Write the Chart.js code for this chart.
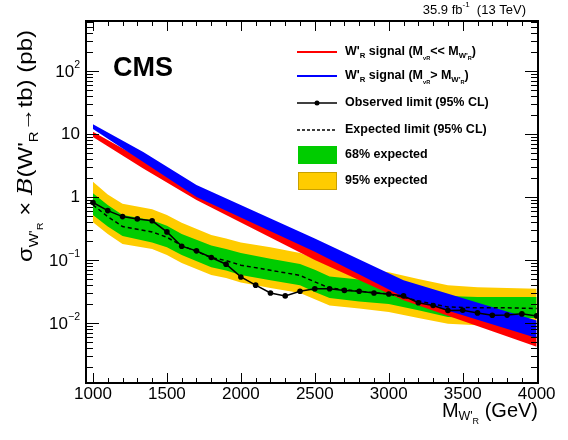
<!DOCTYPE html>
<html><head><meta charset="utf-8">
<script src="https://cdn.jsdelivr.net/npm/chart.js@4"></script>
<style>html,body{margin:0;padding:0;background:#fff}#c{display:block}</style>
</head><body><canvas id="c" width="568" height="440"></canvas>
<script>
const massObs=[1000,1100,1200,1300,1400,1500,1600,1700,1800,1900,2000,2100,2200,2300,2400,2500,2600,2700,2800,2900,3000,3100,3200,3300,3400,3500,3600,3700,3800,3900,4000];
const observed=[0.82,0.61,0.49,0.45,0.42,0.28,0.166,0.14,0.11,0.086,0.054,0.040,0.030,0.027,0.032,0.035,0.035,0.033,0.032,0.030,0.029,0.027,0.021,0.019,0.0158,0.016,0.0145,0.0133,0.0134,0.014,0.013];
const massExp=[1000,1100,1200,1400,1500,1600,1800,1900,2000,2200,2400,2500,2600,2800,3000,3200,3400,3600,3800,4000];
const expected=[0.75,0.49,0.34,0.28,0.23,0.17,0.11,0.098,0.083,0.069,0.057,0.045,0.036,0.032,0.029,0.0225,0.018,0.0175,0.0175,0.017];
const up68=[1.15,0.75,0.52,0.43,0.35,0.26,0.17,0.15,0.13,0.105,0.087,0.07,0.055,0.049,0.044,0.034,0.027,0.026,0.026,0.026];
const lo68=[0.52,0.34,0.24,0.19,0.16,0.12,0.077,0.068,0.058,0.048,0.04,0.031,0.025,0.022,0.020,0.016,0.0125,0.012,0.012,0.012];
const up95=[1.75,1.1,0.78,0.64,0.52,0.39,0.25,0.22,0.19,0.16,0.13,0.105,0.082,0.072,0.064,0.05,0.04,0.037,0.036,0.035];
const lo95=[0.4,0.26,0.18,0.15,0.12,0.09,0.058,0.052,0.044,0.036,0.03,0.024,0.019,0.017,0.015,0.012,0.0098,0.0092,0.009,0.0087];
const massSig=[1000,1340,1700,2500,3100,4000];
const redUp=[10.9,3.86,1.14,0.163,0.036,0.0062];
const redLo=[9.0,2.85,0.9,0.1,0.023,0.0042];
const blueUp=[14.3,5.2,1.55,0.22,0.048,0.011];
const blueLo=[12,3.6,1.0,0.135,0.026,0.0058];
const xTicks=[1000,1500,2000,2500,3000,3500,4000];
const yTickExp=[-2,-1,0,1,2];

const pts=(xs,ys)=>xs.map((x,i)=>({x:x,y:ys[i]}));
const band=(xs,u,l,col)=>[
 {data:pts(xs,l),borderWidth:0,pointRadius:0,fill:false},
 {data:pts(xs,u),borderWidth:0,pointRadius:0,backgroundColor:col,fill:'-1'}];
const F='"Liberation Sans", Arial, sans-serif';

function drawSub(ctx,parts,x,y,size,align){
 let w=0;const meas=[];
 for(const [t,m] of parts){const s=m===0?size:(m===3?size*0.45:size*0.62);ctx.font=ctx._w+' '+s+'px '+F;const mw=ctx.measureText(t).width;meas.push([t,m,s,mw]);w+=mw;}
 let cx=align==='right'?x-w:(align==='center'?x-w/2:x);
 for(const [t,m,s,mw] of meas){ctx.font=ctx._w+' '+s+'px '+F;let dy=m===1?size*0.3:(m===2?-size*0.4:(m===3?size*0.55:0));ctx.fillText(t,cx,y+dy);cx+=mw;}
 return w;
}

const deco={id:'deco',afterDraw(ch){
 const ctx=ch.ctx,a=ch.chartArea,xs=ch.scales.x,ys=ch.scales.y;
 ctx.save();ctx.strokeStyle='#000';ctx.fillStyle='#000';ctx.lineWidth=1;
 ctx.beginPath();
 for(let v=1000;v<=4000;v+=100){const p=Math.round(xs.getPixelForValue(v))+0.5;const L=(v%500===0)?10:5;ctx.moveTo(p,a.bottom);ctx.lineTo(p,a.bottom-L);ctx.moveTo(p,a.top);ctx.lineTo(p,a.top+L);}
 for(let e=-3;e<=2;e++){for(let k=1;k<10;k++){const v=k*Math.pow(10,e);if(v<ys.min||v>ys.max)continue;const p=Math.round(ys.getPixelForValue(v))+0.5;const L=k===1?13:7;ctx.moveTo(a.left,p);ctx.lineTo(a.left+L,p);ctx.moveTo(a.right,p);ctx.lineTo(a.right-L,p);}}
 ctx.stroke();
 ctx.lineWidth=2;ctx.strokeRect(a.left,a.top,a.right-a.left,a.bottom-a.top);
 ctx._w='normal';ctx.textBaseline='middle';ctx.textAlign='left';
 ctx.font='17px '+F;
 for(const t of xTicks){ctx.textAlign='center';ctx.fillText(String(t),xs.getPixelForValue(t),394);}
 ctx.textAlign='left';
 for(const e of yTickExp){const p=ys.getPixelForValue(Math.pow(10,e));
  if(e===0||e===1){ctx.font='17px '+F;ctx.textAlign='right';ctx.fillText(e===0?'1':'10',a.left-6,p);ctx.textAlign='left';}
  else drawSub(ctx,[['10',0],[e<0?'−'+(-e):String(e),2]],a.left-6,p+1,17,'right');}
 drawSub(ctx,[['M',0],['W\'',1],['R',3],[' (GeV)',0]],538,411,20,'right');
 // y title, fit to length
 const sz=20;
 const segs=[['σ',0],['W\'',1],['R',3],[' × ',0],['B',0,1],['(W\'',0],['R',1],['→',0],['tb) (pb)',0]];
 const fontOf=(m,it)=>{const s=m===0?sz:(m===3?sz*0.45:sz*0.62);return (it?'italic ':'')+s+'px '+(it?'"DejaVu Serif", serif':F);};
 let tot=0;for(const [t,m,it] of segs){ctx.font=fontOf(m,it);tot+=ctx.measureText(t).width;}
 ctx.save();ctx.translate(32,262);ctx.rotate(-Math.PI/2);ctx.scale(232/tot,1);ctx.textBaseline='alphabetic';
 let cx=0;
 for(const [t,m,it] of segs){ctx.font=fontOf(m,it);let dy=m===1?sz*0.3:(m===3?sz*0.55:0);ctx.fillText(t,cx,dy);cx+=ctx.measureText(t).width;}
 ctx.restore();
 ctx._w='normal';ctx.textAlign='left';
 drawSub(ctx,[['35.9 fb',0],['-1',2],['  (13 TeV)',0]],526,10,13,'right');
 ctx.font='bold 27px '+F;ctx.fillText('CMS',113,69);
 ctx._w='bold';const lx=345,fs=12.5;
 const ly=[52,76,103,130,155,181];
 ctx.lineWidth=2;ctx.strokeStyle='#ff0000';ctx.beginPath();ctx.moveTo(297,ly[0]);ctx.lineTo(337,ly[0]);ctx.stroke();
 ctx.strokeStyle='#0000ff';ctx.beginPath();ctx.moveTo(297,ly[1]);ctx.lineTo(337,ly[1]);ctx.stroke();
 ctx.strokeStyle='#000';ctx.lineWidth=1.5;ctx.beginPath();ctx.moveTo(297,ly[2]);ctx.lineTo(337,ly[2]);ctx.stroke();
 ctx.beginPath();ctx.arc(317,ly[2],2.5,0,7);ctx.fill();
 ctx.setLineDash([3,2]);ctx.lineWidth=1.3;ctx.beginPath();ctx.moveTo(297,ly[3]);ctx.lineTo(337,ly[3]);ctx.stroke();ctx.setLineDash([]);
 ctx.fillStyle='#00cc00';ctx.fillRect(298,ly[4]-9,39,18);
 ctx.fillStyle='#ffcc00';ctx.fillRect(298,ly[5]-9,39,18);ctx.strokeStyle='#c8a000';ctx.lineWidth=1;ctx.strokeRect(298.5,ly[5]-8.5,38,17);
 ctx.fillStyle='#000';
 drawSub(ctx,[['W\'',0],['R',1],[' signal (M',0],['ν',3],['R',3],['<< M',0],['W\'',1],['R',3],[')',0]],lx,ly[0],fs,'left');
 drawSub(ctx,[['W\'',0],['R',1],[' signal (M',0],['ν',3],['R',3],['> M',0],['W\'',1],['R',3],[')',0]],lx,ly[1],fs,'left');
 ctx.font='bold 12.5px '+F;
 ctx.fillText('Observed limit (95% CL)',lx,ly[2]);
 ctx.fillText('Expected limit (95% CL)',lx,ly[3]);
 ctx.fillText('68% expected',lx,ly[4]);
 ctx.fillText('95% expected',lx,ly[5]);
 ctx.restore();
}};

new Chart(document.getElementById('c'),{
 type:'line',
 data:{datasets:[
  {data:pts(massObs,observed),borderColor:'#000',borderWidth:1.5,pointRadius:2.8,pointBackgroundColor:'#000',pointBorderWidth:0,fill:false},
  {data:pts(massExp,expected),borderColor:'#000',borderWidth:1.5,borderDash:[4,3],pointRadius:0,fill:false},
  ...band(massSig,blueUp,blueLo,'#0000ff'),
  ...band(massSig,redUp,redLo,'#ff0000'),
  ...band(massExp,up68,lo68,'#00cc00'),
  ...band(massExp,up95,lo95,'#ffcc00')
 ]},
 options:{responsive:false,animation:false,
  layout:{padding:{left:86,right:30,top:21,bottom:57}},
  plugins:{legend:{display:false},tooltip:{enabled:false}},
  elements:{line:{tension:0}},
  scales:{x:{type:'linear',min:953,max:4009,display:false},
          y:{type:'logarithmic',min:0.00112,max:622,display:false}}},
 plugins:[deco]
});
</script></body></html>
